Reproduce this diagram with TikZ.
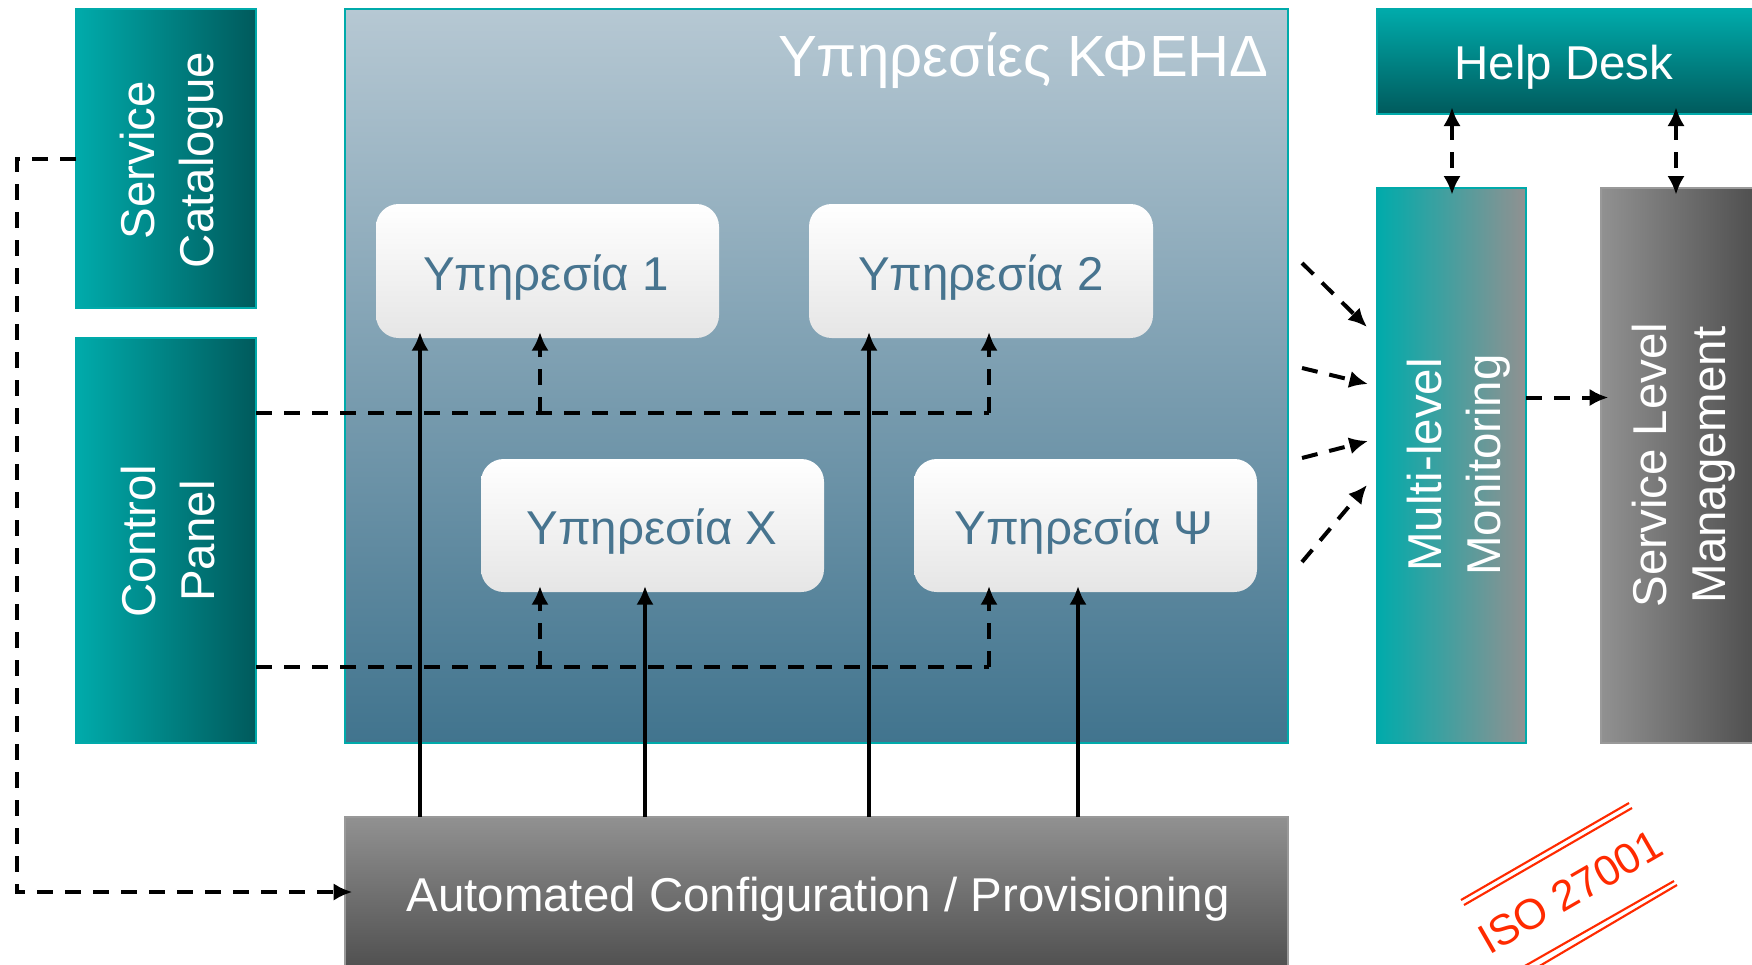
\documentclass[tikz,border=0pt]{standalone}
\usepackage{fontspec}
\setmainfont{Liberation Sans}
\usetikzlibrary{arrows.meta,shadings}
\definecolor{teal1}{HTML}{00ABAB}
\definecolor{teal2}{HTML}{005A5C}
\definecolor{edgeteal}{HTML}{00AAAA}
\definecolor{grey1}{HTML}{919191}
\definecolor{grey2}{HTML}{4D4D4D}
\definecolor{edgegrey}{HTML}{999999}
\definecolor{blue1}{HTML}{B6C8D3}
\definecolor{blue2}{HTML}{41748E}
\definecolor{svc}{HTML}{47748F}
\definecolor{stamp}{HTML}{FF2A00}
\newcommand{\pxbox}[6]{\node[#1, minimum width=(#5-#3)*0.75pt, minimum height=(#6-#4)*0.75pt] (#2) at ({(#3+#5)/2},{(#4+#6)/2}) {};}
\tikzset{
  boxbase/.style={rectangle,inner sep=0pt,outer sep=0pt,line width=1.8pt},
  tealh/.style={boxbase,draw=edgeteal,left color=teal1,right color=teal2},
  tealv/.style={boxbase,draw=edgeteal,top color=teal1,bottom color=teal2},
  greyh/.style={boxbase,draw=edgegrey,left color=grey1,right color=grey2},
  greyv/.style={boxbase,draw=edgegrey,top color=grey1,bottom color=grey2},
  mixh/.style={boxbase,draw=edgeteal,left color=teal1,right color=grey1},
  bigbox/.style={boxbase,draw=edgeteal,top color=blue1,bottom color=blue2},
  svcbox/.style={rectangle,rounded corners=17pt,inner sep=0pt,outer sep=0pt,top color=white,bottom color=black!10},
  whitetext/.style={text=white,inner sep=0pt,align=center,font=\fontsize{35.6}{44.5}\selectfont},
  svctext/.style={text=svc,inner sep=0pt,font=\fontsize{35.6}{43}\selectfont},
  solidarrow/.style={line width=3pt,-{Latex[length=14pt,width=13pt]}},
  dashline/.style={line width=3pt,dash pattern=on 12pt off 9pt},
  dasharrow/.style={dashline,-{Latex[length=14pt,width=13pt]}},
  dashboth/.style={dashline,{Latex[length=14pt,width=13pt]}-{Latex[length=14pt,width=13pt]}},
  stampline/.style={draw=stamp,line width=1.6pt},
}
\begin{document}
\begin{tikzpicture}[x=0.75pt,y=-0.75pt]
\useasboundingbox (0,0) rectangle (1752,964);
\clip (0,0) rectangle (1752,964);
% boxes
\pxbox{tealh}{sc}{76}{9}{256}{308}
\pxbox{tealh}{cp}{76}{338}{256}{743}
\pxbox{bigbox}{big}{345}{9}{1288}{743}
\pxbox{greyv}{auto}{345}{817}{1288}{975}
\pxbox{tealv}{help}{1377}{9}{1760}{114}
\pxbox{mixh}{ml}{1377}{188}{1526}{743}
\pxbox{greyh}{slm}{1601}{188}{1760}{743}
\pxbox{svcbox}{s1}{376}{204}{719}{338}
\pxbox{svcbox}{s2}{809}{204}{1153}{338}
\pxbox{svcbox}{sx}{481}{459}{824}{592}
\pxbox{svcbox}{sy}{914}{459}{1257}{592}
% labels
\node[whitetext,rotate=90] (sclabel) at (172,160) {Service\\Catalogue};
\node[whitetext,rotate=90] (cplabel) at (168,541) {Control\\Panel};
\node[whitetext,rotate=90] (mllabel) at (1458.5,465) {Multi-level\\Monitoring};
\node[whitetext,rotate=90] (slmlabel) at (1683.5,465) {Service Level\\Management};
\node[whitetext] (helplabel) at (1564,67) {Help Desk};
\node[whitetext] (autolabel) at (818,899) {Automated Configuration / Provisioning};
\node[text=white,inner sep=0pt,anchor=east,font=\fontsize{43.6}{50}\selectfont] (title) at (1269,61) {Υπηρεσίες ΚΦΕΗΔ};
\node[svctext] (s1label) at (546,278) {Υπηρεσία 1};
\node[svctext] (s2label) at (981,278) {Υπηρεσία 2};
\node[svctext] (sxlabel) at (652,532) {Υπηρεσία Χ};
\node[svctext] (sylabel) at (1084,532) {Υπηρεσία Ψ};
% x positions of the arrows
\coordinate (a1) at (420,0);
\coordinate (a2) at (645,0);
\coordinate (a3) at (869,0);
\coordinate (a4) at (1078,0);
\coordinate (b1) at (540,413);
\coordinate (b2) at (989,413);
\coordinate (b3) at (540,667);
\coordinate (b4) at (989,667);
% solid arrows
\draw[solidarrow] (auto.north -| a1) -- ([yshift=4.5pt]s1.south -| a1);
\draw[solidarrow] (auto.north -| a2) -- ([yshift=4.5pt]sx.south -| a2);
\draw[solidarrow] (auto.north -| a3) -- ([yshift=4.5pt]s2.south -| a3);
\draw[solidarrow] (auto.north -| a4) -- ([yshift=4.5pt]sy.south -| a4);
% control panel dashed
\draw[dashline] (cp.east |- b1) -- (b2);
\draw[dasharrow] (b1) -- ([yshift=4.5pt]s1.south -| b1);
\draw[dasharrow] (b2) -- ([yshift=4.5pt]s2.south -| b2);
\draw[dashline] (cp.east |- b3) -- (b4);
\draw[dasharrow] (b3) -- ([yshift=4.5pt]sx.south -| b3);
\draw[dasharrow] (b4) -- ([yshift=4.5pt]sy.south -| b4);
% catalogue to provisioning
\coordinate (l1) at (17,159);
\coordinate (l2) at (17,892);
\draw[dasharrow] (sc.west |- l1) -- (l1) -- (l2) -- ([xshift=5.5pt]auto.west |- l2);
% into monitoring
\coordinate (m1a) at (1302,263); \coordinate (m1b) at (1367,327);
\coordinate (m2a) at (1302,368); \coordinate (m2b) at (1368,384);
\coordinate (m3a) at (1302,458); \coordinate (m3b) at (1368,441);
\coordinate (m4a) at (1302,562); \coordinate (m4b) at (1367,485);
\draw[dasharrow] (m1a) -- (m1b);
\draw[dasharrow] (m2a) -- (m2b);
\draw[dasharrow] (m3a) -- (m3b);
\draw[dasharrow] (m4a) -- (m4b);
% monitoring to SLM
\coordinate (n1) at (1526,397.5);
\draw[dasharrow] (ml.east |- n1) -- ([xshift=5.5pt]slm.west |- n1);
% help desk double arrows
\coordinate (h1) at (1452,0);
\coordinate (h2) at (1676,0);
\draw[dashboth] ([yshift=5pt]help.south -| h1) -- ([yshift=-5pt]ml.north -| h1);
\draw[dashboth] ([yshift=5pt]help.south -| h2) -- ([yshift=-5pt]slm.north -| h2);
% ISO stamp
\node[text=stamp,inner sep=0pt,rotate=30,font=\fontsize{32}{36}\selectfont] (iso) at (1570,892) {ISO 27001};
\coordinate (u1) at (1461,900); \coordinate (u2) at (1629,803);
\coordinate (u3) at (1464,905); \coordinate (u4) at (1632,808);
\coordinate (v1) at (1516,971); \coordinate (v2) at (1674,881);
\coordinate (v3) at (1526,974); \coordinate (v4) at (1677,885);
\draw[stampline] (u1) -- (u2);
\draw[stampline] (u3) -- (u4);
\draw[stampline] (v1) -- (v2);
\draw[stampline] (v3) -- (v4);
\end{tikzpicture}
\end{document}
